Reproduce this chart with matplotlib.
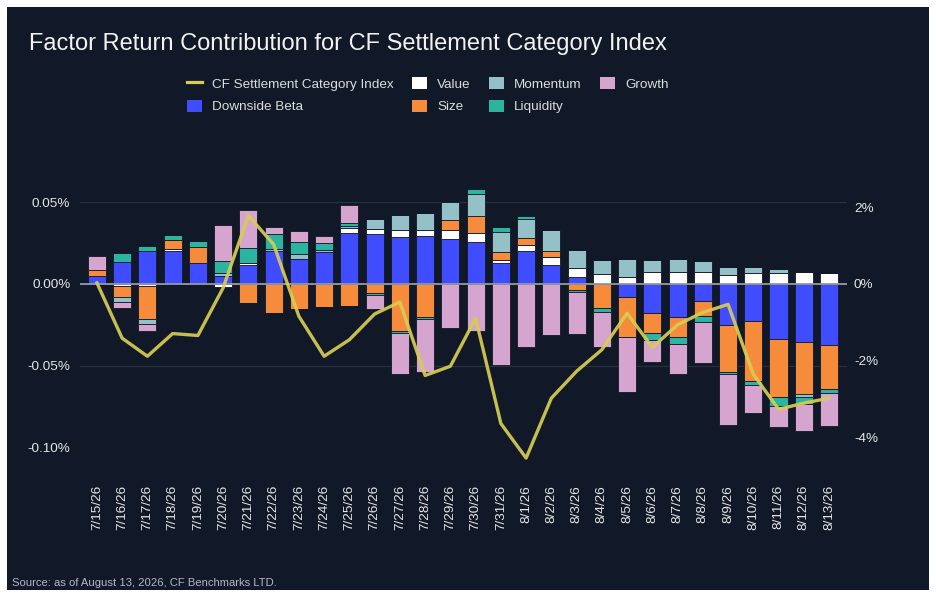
import numpy as np
import matplotlib
matplotlib.use("Agg")
import matplotlib.pyplot as plt
from matplotlib.patches import Patch
from matplotlib.lines import Line2D
from matplotlib.ticker import FuncFormatter

plt.rcParams['font.family'] = ['Liberation Sans', 'DejaVu Sans']

dates = ['7/15/26', '7/16/26', '7/17/26', '7/18/26', '7/19/26', '7/20/26', '7/21/26',
         '7/22/26', '7/23/26', '7/24/26', '7/25/26', '7/26/26', '7/27/26', '7/28/26',
         '7/29/26', '7/30/26', '7/31/26', '8/1/26', '8/2/26', '8/3/26', '8/4/26',
         '8/5/26', '8/6/26', '8/7/26', '8/8/26', '8/9/26', '8/10/26', '8/11/26',
         '8/12/26', '8/13/26']

# factor contributions, in %
downside_beta = [0.0045, 0.0136, 0.0201, 0.0201, 0.0126, 0.0045, 0.0116, 0.0201, 0.0154, 0.0197,
                 0.0309, 0.0305, 0.0289, 0.0295, 0.0274, 0.0258, 0.0130, 0.0203, 0.0112, 0.0039,
                 0.0000, -0.0081, -0.0179, -0.0201, -0.0106, -0.0250, -0.0228, -0.0337, -0.0356, -0.0372]
value = [-0.0010, -0.0016, -0.0012, 0.0010, 0.0000, -0.0020, 0.0012, 0.0000, 0.0000, 0.0000,
         0.0030, 0.0030, 0.0041, 0.0035, 0.0055, 0.0055, 0.0014, 0.0035, 0.0049, 0.0057,
         0.0059, 0.0041, 0.0071, 0.0071, 0.0071, 0.0053, 0.0065, 0.0065, 0.0071, 0.0069]
size = [0.0037, -0.0065, -0.0203, 0.0057, 0.0096, -0.0008, -0.0118, -0.0179, -0.0154, -0.0142,
        -0.0138, -0.0057, -0.0291, -0.0205, 0.0061, 0.0104, 0.0053, 0.0045, 0.0037, -0.0041,
        -0.0148, -0.0242, -0.0122, -0.0122, -0.0093, -0.0287, -0.0364, -0.0356, -0.0321, -0.0270]
momentum = [0.0000, -0.0030, -0.0028, -0.0010, 0.0000, 0.0024, 0.0000, 0.0012, 0.0030, 0.0012,
            0.0016, 0.0061, 0.0091, 0.0104, 0.0112, 0.0132, 0.0122, 0.0114, 0.0132, 0.0108,
            0.0089, 0.0112, 0.0075, 0.0081, 0.0069, 0.0047, 0.0035, 0.0026, -0.0016, 0.0000]
liquidity = [0.0000, 0.0055, 0.0033, 0.0030, 0.0041, 0.0073, 0.0093, 0.0091, 0.0073, 0.0043,
             0.0014, -0.0012, -0.0010, -0.0010, 0.0006, 0.0030, 0.0028, 0.0018, 0.0000, -0.0010,
             -0.0026, 0.0000, -0.0041, -0.0043, -0.0035, -0.0012, -0.0028, -0.0055, -0.0045, -0.0028]
growth = [0.0085, -0.0037, -0.0043, 0.0000, 0.0000, 0.0217, 0.0230, 0.0043, 0.0065, 0.0043,
          0.0112, -0.0085, -0.0252, -0.0325, -0.0268, -0.0287, -0.0498, -0.0388, -0.0311, -0.0254,
          -0.0213, -0.0339, -0.0134, -0.0187, -0.0252, -0.0315, -0.0171, -0.0128, -0.0163, -0.0199]

# index return, in %
index_return = [0.03, -1.41, -1.88, -1.29, -1.34, -0.10, 1.78, 1.03, -0.84, -1.88,
                -1.45, -0.78, -0.47, -2.38, -2.14, -0.89, -3.63, -4.53, -2.97, -2.27,
                -1.71, -0.76, -1.65, -1.06, -0.74, -0.53, -2.35, -3.26, -3.10, -2.97]

bg = '#111827'
factors = [
    ('Downside Beta', downside_beta, '#3f4cff'),
    ('Value', value, '#ffffff'),
    ('Size', size, '#f68b3b'),
    ('Momentum', momentum, '#94c1c7'),
    ('Liquidity', liquidity, '#2bb4a0'),
    ('Growth', growth, '#d5a5d0'),
]
line_color = '#d7cd52'

W, H = 936, 598
fig = plt.figure(figsize=(W / 100, H / 100), dpi=100, facecolor='white')
# dark panel
fig.patches.append(plt.Rectangle((7 / W, 8 / H), 922 / W, 583 / H, transform=fig.transFigure,
                                 facecolor=bg, edgecolor='none', zorder=-10))

top_px, bot_px = 165, 447.3
ax = fig.add_axes([80 / W, 1 - bot_px / H, 767 / W, (bot_px - top_px) / H])
ax.set_facecolor('none')
x = np.arange(len(dates))

pos_base = np.zeros(len(dates))
neg_base = np.zeros(len(dates))
handles = {}
for name, vals, col in factors:
    v = np.array(vals)
    pos = np.where(v > 0, v, 0)
    neg = np.where(v < 0, v, 0)
    ax.bar(x, pos, 0.72, bottom=pos_base, color=col, edgecolor=bg, linewidth=0.6, zorder=2)
    ax.bar(x, neg, 0.72, bottom=neg_base, color=col, edgecolor=bg, linewidth=0.6, zorder=2)
    pos_base += pos
    neg_base += neg
    handles[name] = Patch(facecolor=col, edgecolor='none')

ax.set_xlim(-0.67, 29.71)
pct_per_px = 0.05 / 81.9
ax.set_ylim(-(bot_px - 284) * pct_per_px, (284 - top_px) * pct_per_px)
ax.grid(axis='y', color='#283140', linewidth=0.9, zorder=0)
ax.set_yticks([0.05, 0.0, -0.05, -0.10])
ax.axhline(0, color='#9499a2', linewidth=1.3, zorder=3)
ax.yaxis.set_major_formatter(FuncFormatter(lambda v, p: f"{v:.2f}%"))
ax.set_xticks(x)
ax.set_xticklabels(dates, rotation=90, va='top')
ax.tick_params(axis='both', length=0, colors='#e6e6e6', labelsize=9.7)
ax.tick_params(axis='x', pad=27)
ax.tick_params(axis='y', pad=7)
for s in ax.spines.values():
    s.set_visible(False)

ax2 = ax.twinx()
ret_per_px = 1 / 38.43
ax2.set_ylim(-(bot_px - 284) * ret_per_px, (284 - top_px) * ret_per_px)
ax2.plot(x, index_return, color=line_color, linewidth=2.4, alpha=0.92, zorder=5, clip_on=False)
ax2.set_yticks([2, 0, -2, -4])
ax2.yaxis.set_major_formatter(FuncFormatter(lambda v, p: f"{v:.0f}%"))
ax2.tick_params(axis='y', length=0, colors='#e6e6e6', labelsize=9.7, pad=5)
for s in ax2.spines.values():
    s.set_visible(False)

fig.text(29 / W, 1 - 50 / H, 'Factor Return Contribution for CF Settlement Category Index',
         color='#f2f2f2', fontsize=17, va='baseline', ha='left')

leg_handles = [Line2D([0], [0], color=line_color, linewidth=2.3), handles['Downside Beta'],
               handles['Value'], handles['Size'], handles['Momentum'], handles['Liquidity'],
               handles['Growth']]
leg_labels = ['CF Settlement Category Index', 'Downside Beta', 'Value', 'Size',
              'Momentum', 'Liquidity', 'Growth']
fig.legend(leg_handles, leg_labels, loc='upper left', bbox_to_anchor=(187 / W, 1 - 77 / H),
           ncol=4, frameon=False, borderpad=0, borderaxespad=0, fontsize=9.7,
           labelcolor='#dcdcdc', handlelength=1.15, handleheight=1.05, handletextpad=0.72,
           columnspacing=1.35, labelspacing=0.65)

fig.text(12 / W, 1 - 583 / H, 'Source: as of August 13, 2026, CF Benchmarks LTD.',
         color='#b4b8c0', fontsize=8.1, va='center', ha='left')

fig.savefig('out.png', dpi=100, facecolor='white')
